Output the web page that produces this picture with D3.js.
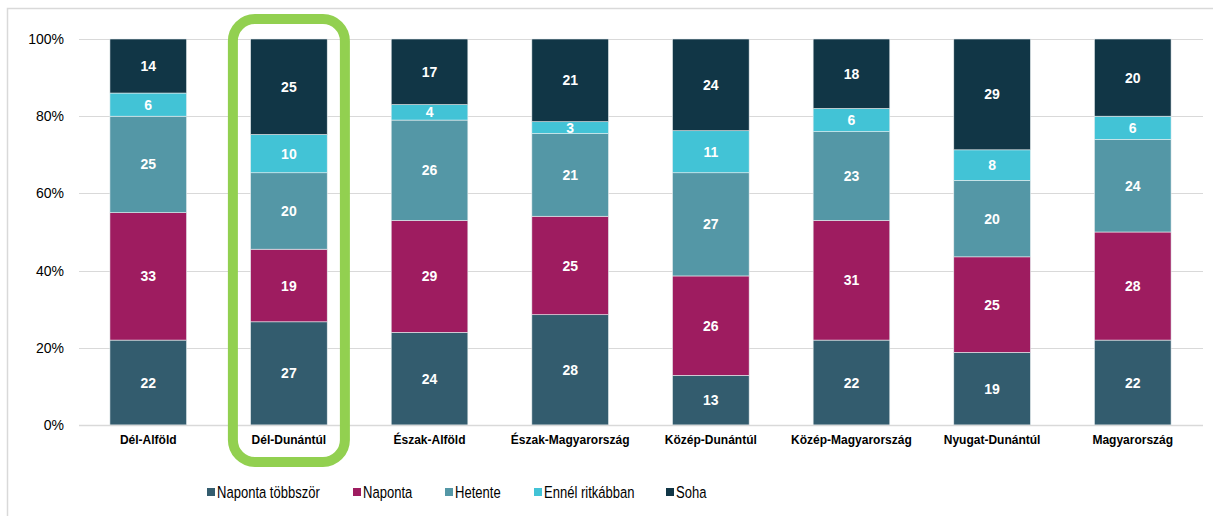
<!DOCTYPE html>
<html><head><meta charset="utf-8">
<script src="https://cdn.jsdelivr.net/npm/d3@7"></script>
<style>body{margin:0;background:#fff;}svg{display:block;font-family:"Liberation Sans",Arial,sans-serif;}</style>
</head><body><svg id="c" width="1213" height="516"></svg>
<script>
const categories = ["Dél-Alföld","Dél-Dunántúl","Észak-Alföld","Észak-Magyarország","Közép-Dunántúl","Közép-Magyarország","Nyugat-Dunántúl","Magyarország"];
const seriesNames = ["Naponta többször","Naponta","Hetente","Ennél ritkábban","Soha"];
const napontaTobbszor = [22,27,24,28,13,22,19,22];
const naponta = [33,19,29,25,26,31,25,28];
const hetente = [25,20,26,21,27,23,20,24];
const ennelRitkabban = [6,10,4,3,11,6,8,6];
const soha = [14,25,17,21,24,18,29,20];
const yTicks = [0,0.2,0.4,0.6,0.8,1];
const colors = ["#335C6E","#9E1C60","#5497A6","#42C3D6","#113646"];
const highlighted = "Dél-Dunántúl";

const seriesValues = [napontaTobbszor,naponta,hetente,ennelRitkabban,soha];
const rows = categories.map((c,i)=>{
  const o={cat:c}; let tot=0;
  seriesNames.forEach((s,k)=>{o[s]=seriesValues[k][i]; tot+=seriesValues[k][i];});
  o.total=tot; return o;
});
const stack = d3.stack().keys(seriesNames).value((d,k)=>d[k]/d.total);
const layers = stack(rows);

const svg = d3.select("#c");
const x = d3.scaleBand().domain(categories).range([78,1203]).paddingInner(0.455).paddingOuter(0.227);
const y = d3.scaleLinear().domain([0,1]).range([425,39]);

// frame
svg.append("rect").attr("x",7.5).attr("y",8.5).attr("width",1230).attr("height",530).attr("fill","none").attr("stroke","#D9D9D9").attr("stroke-width",1.5);

// gridlines
svg.append("g").selectAll("line").data(yTicks.filter(t=>t>0)).join("line")
  .attr("x1",79).attr("x2",1203).attr("y1",d=>Math.round(y(d))+0.5).attr("y2",d=>Math.round(y(d))+0.5)
  .attr("stroke","#D9D9D9").attr("stroke-width",1.2);

// y axis labels
svg.append("g").selectAll("text").data(yTicks).join("text")
  .attr("x",64).attr("y",d=>y(d)).attr("dy","0.35em").attr("text-anchor","end")
  .attr("font-size",14).attr("fill","#000").text(d3.format(".0%"));

// bars
const g = svg.append("g");
layers.forEach((layer,k)=>{
  g.append("g").selectAll("rect").data(layer).join("rect")
    .attr("x",d=>x(d.data.cat)).attr("width",x.bandwidth())
    .attr("y",d=>y(d[1])).attr("height",d=>y(d[0])-y(d[1]))
    .attr("fill",colors[k]).attr("stroke","#E8EEF0").attr("stroke-width",0.6);
  g.append("g").selectAll("text").data(layer).join("text")
    .attr("x",d=>x(d.data.cat)+x.bandwidth()/2).attr("y",d=>(y(d[0])+y(d[1]))/2)
    .attr("dy","0.36em").attr("text-anchor","middle").attr("font-size",14).attr("font-weight","bold")
    .attr("fill","#fff").text(d=>d.data[layer.key]);
});

// x axis baseline
svg.append("line").attr("x1",79).attr("x2",1203).attr("y1",425.5).attr("y2",425.5).attr("stroke","#D9D9D9").attr("stroke-width",1.5);

// category labels
svg.append("g").selectAll("text").data(categories).join("text")
  .attr("x",d=>x(d)+x.bandwidth()/2).attr("y",440).attr("dy","0.35em").attr("text-anchor","middle")
  .attr("font-size",12).attr("font-weight","bold").attr("fill","#000").text(d=>d);

// highlight box
const hx = x(highlighted)+x.bandwidth()/2;
svg.append("rect").attr("x",hx-56).attr("y",19).attr("width",112).attr("height",443)
  .attr("rx",22).attr("ry",22).attr("fill","none").attr("stroke","#92D050").attr("stroke-width",10);

// legend
const legX = [207,353,445,534,666];
const leg = svg.append("g").selectAll("g").data(seriesNames).join("g")
  .attr("transform",(d,i)=>`translate(${legX[i]},492)`);
leg.append("rect").attr("x",0).attr("y",-4).attr("width",8).attr("height",8).attr("fill",(d,i)=>colors[i]);
leg.append("text").attr("transform","translate(10,0) scale(0.79,1)").attr("dy","0.35em").attr("font-size",16.5)
  .attr("fill","#000").text(d=>d);
</script></body></html>
